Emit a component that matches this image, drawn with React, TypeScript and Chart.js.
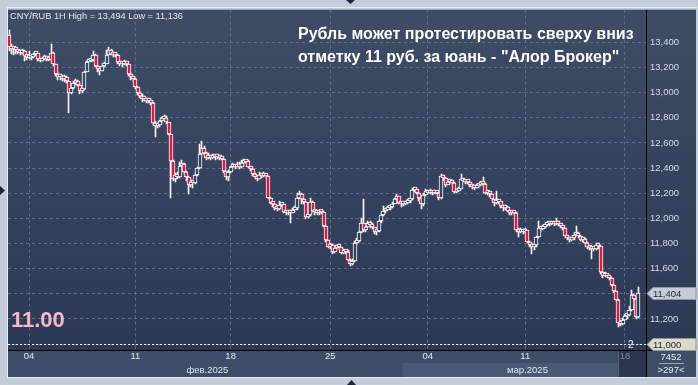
import React, { useEffect, useRef } from "react";
import { Chart, registerables } from "chart.js";

Chart.register(...registerables);

// ---------- data (CNY/RUB, hourly candles, 03.02.2025 – 18.03.2025) ----------
const firstOpen = 13.455;

const closes = [
  13.365, 13.345, 13.350, 13.335, 13.325, 13.318, 13.330, 13.290, 13.282,
  13.275, 13.280, 13.305, 13.312, 13.270, 13.255, 13.265, 13.285, 13.268,
  13.262, 13.318, 13.225, 13.150, 13.120, 13.135, 13.105, 13.125, 13.090,
  12.995, 13.035, 13.075, 13.090, 13.060, 13.010, 13.030, 13.165, 13.240,
  13.255, 13.262, 13.300, 13.215, 13.185, 13.175, 13.215, 13.230, 13.300,
  13.335, 13.310, 13.295, 13.300, 13.245, 13.230, 13.228, 13.245, 13.225,
  13.150, 13.120, 13.110, 13.045, 13.000, 12.975, 12.945, 12.955, 12.935,
  12.940, 12.920, 12.760, 12.735, 12.745, 12.770, 12.790, 12.800, 12.765,
  12.670, 12.455, 12.315, 12.345, 12.330, 12.420, 12.435, 12.370, 12.330,
  12.265, 12.290, 12.280, 12.345, 12.400, 12.515, 12.560, 12.520, 12.480,
  12.490, 12.478, 12.495, 12.485, 12.492, 12.482, 12.475, 12.375, 12.325,
  12.370, 12.405, 12.425, 12.412, 12.430, 12.410, 12.438, 12.445, 12.455,
  12.410, 12.392, 12.350, 12.330, 12.315, 12.345, 12.335, 12.350, 12.335,
  12.160, 12.125, 12.110, 12.080, 12.072, 12.105, 12.110, 12.050, 12.040,
  12.055, 12.045, 12.070, 12.080, 12.160, 12.190, 12.150, 12.130, 12.010,
  12.030, 12.130, 12.060, 12.048, 12.040, 12.052, 12.048, 11.940, 11.830,
  11.775, 11.790, 11.735, 11.765, 11.778, 11.770, 11.725, 11.742, 11.735,
  11.672, 11.640, 11.660, 11.800, 11.820, 11.890, 11.960, 11.905, 11.930,
  11.965, 11.950, 11.930, 11.890, 11.900, 11.975, 12.030, 12.060, 12.070,
  12.085, 12.090, 12.115, 12.150, 12.175, 12.120, 12.110, 12.115, 12.125,
  12.140, 12.150, 12.225, 12.230, 12.200, 12.160, 12.110, 12.185, 12.215,
  12.205, 12.215, 12.200, 12.212, 12.205, 12.160, 12.335, 12.320, 12.265,
  12.285, 12.295, 12.280, 12.210, 12.220, 12.235, 12.310, 12.300, 12.285,
  12.290, 12.262, 12.250, 12.242, 12.255, 12.262, 12.285, 12.275, 12.200,
  12.210, 12.190, 12.150, 12.120, 12.130, 12.135, 12.100, 12.085, 12.090,
  12.060, 12.040, 12.050, 12.045, 11.905, 11.890, 11.910, 11.895, 11.905,
  11.815, 11.790, 11.775, 11.785, 11.850, 11.920, 11.915, 11.930, 11.945,
  11.960, 11.955, 11.962, 11.955, 11.965, 11.958, 11.940, 11.920, 11.860,
  11.845, 11.830, 11.840, 11.870, 11.885, 11.860, 11.830, 11.835, 11.800,
  11.775, 11.765, 11.755, 11.760, 11.790, 11.780, 11.570, 11.545, 11.555,
  11.540, 11.525, 11.470, 11.420, 11.350, 11.170, 11.160, 11.195, 11.225,
  11.235, 11.270, 11.390, 11.360, 11.215, 11.404,
];

const highs = [
  13.494, 13.390, 13.372, 13.360, 13.350, 13.340, 13.345, 13.335, 13.300,
  13.330, 13.295, 13.315, 13.322, 13.315, 13.275, 13.280, 13.300, 13.290,
  13.280, 13.390, 13.322, 13.230, 13.160, 13.150, 13.140, 13.140, 13.130,
  13.090, 13.060, 13.095, 13.110, 13.100, 13.075, 13.045, 13.175, 13.250,
  13.270, 13.280, 13.330, 13.305, 13.220, 13.200, 13.230, 13.245, 13.340,
  13.360, 13.345, 13.320, 13.315, 13.305, 13.250, 13.245, 13.262, 13.250,
  13.230, 13.160, 13.130, 13.115, 13.050, 13.010, 12.985, 12.970, 12.960,
  12.955, 12.950, 12.925, 12.770, 12.760, 12.780, 12.805, 12.820, 12.810,
  12.740, 12.670, 12.460, 12.360, 12.365, 12.450, 12.460, 12.440, 12.380,
  12.340, 12.310, 12.300, 12.360, 12.410, 12.590, 12.614, 12.575, 12.530,
  12.520, 12.500, 12.510, 12.505, 12.510, 12.500, 12.490, 12.482, 12.380,
  12.385, 12.420, 12.440, 12.435, 12.450, 12.445, 12.460, 12.472, 12.465,
  12.460, 12.420, 12.400, 12.360, 12.345, 12.370, 12.360, 12.365, 12.355,
  12.340, 12.170, 12.130, 12.115, 12.090, 12.140, 12.125, 12.115, 12.060,
  12.070, 12.065, 12.085, 12.095, 12.200, 12.215, 12.200, 12.165, 12.135,
  12.050, 12.165, 12.140, 12.070, 12.060, 12.065, 12.070, 12.055, 11.945,
  11.830, 11.805, 11.795, 11.780, 11.790, 11.785, 11.775, 11.755, 11.750,
  11.750, 11.680, 11.675, 11.820, 11.840, 11.910, 12.000, 12.155, 11.945,
  11.980, 11.975, 11.960, 11.935, 11.915, 11.990, 12.045, 12.100, 12.085,
  12.100, 12.105, 12.130, 12.165, 12.190, 12.180, 12.130, 12.130, 12.140,
  12.155, 12.165, 12.240, 12.250, 12.245, 12.210, 12.165, 12.200, 12.230,
  12.225, 12.230, 12.220, 12.225, 12.220, 12.215, 12.355, 12.345, 12.325,
  12.300, 12.310, 12.305, 12.285, 12.235, 12.250, 12.350, 12.320, 12.305,
  12.305, 12.295, 12.270, 12.260, 12.270, 12.275, 12.300, 12.325, 12.280,
  12.225, 12.215, 12.195, 12.150, 12.220, 12.150, 12.140, 12.105, 12.105,
  12.095, 12.070, 12.060, 12.060, 12.050, 11.920, 11.925, 11.915, 11.920,
  11.905, 11.820, 11.800, 11.800, 11.860, 11.980, 11.935, 11.945, 11.960,
  11.975, 11.970, 11.975, 11.970, 12.005, 11.980, 11.965, 11.945, 11.925,
  11.870, 11.855, 11.855, 11.885, 11.940, 11.890, 11.865, 11.850, 11.840,
  11.810, 11.785, 11.775, 11.775, 11.800, 11.800, 11.785, 11.580, 11.570,
  11.560, 11.550, 11.530, 11.480, 11.425, 11.355, 11.190, 11.210, 11.240,
  11.250, 11.300, 11.430, 11.400, 11.375, 11.450,
];

const lows = [
  13.330, 13.305, 13.300, 13.310, 13.305, 13.300, 13.310, 13.250, 13.260,
  13.265, 13.262, 13.275, 13.290, 13.250, 13.240, 13.250, 13.260, 13.255,
  13.250, 13.255, 13.215, 13.130, 13.100, 13.100, 13.090, 13.085, 13.075,
  12.840, 12.985, 13.030, 13.060, 13.050, 12.985, 13.000, 13.020, 13.160,
  13.240, 13.245, 13.255, 13.200, 13.160, 13.140, 13.170, 13.200, 13.225,
  13.300, 13.295, 13.280, 13.285, 13.230, 13.215, 13.205, 13.220, 13.210,
  13.130, 13.100, 13.085, 13.030, 12.980, 12.955, 12.925, 12.930, 12.920,
  12.915, 12.900, 12.745, 12.650, 12.720, 12.730, 12.760, 12.780, 12.750,
  12.660, 12.160, 12.300, 12.290, 12.315, 12.320, 12.400, 12.350, 12.300,
  12.195, 12.250, 12.240, 12.270, 12.335, 12.390, 12.500, 12.505, 12.465,
  12.470, 12.465, 12.470, 12.465, 12.475, 12.465, 12.460, 12.360, 12.305,
  12.300, 12.360, 12.400, 12.395, 12.405, 12.395, 12.400, 12.420, 12.430,
  12.400, 12.380, 12.340, 12.310, 12.295, 12.310, 12.320, 12.330, 12.320,
  12.150, 12.110, 12.090, 12.070, 12.055, 12.065, 12.090, 12.040, 12.025,
  12.030, 11.965, 12.040, 12.060, 12.070, 12.150, 12.115, 12.115, 11.995,
  12.000, 12.020, 12.050, 12.030, 12.025, 12.030, 12.035, 11.930, 11.815,
  11.765, 11.760, 11.715, 11.725, 11.755, 11.745, 11.715, 11.720, 11.715,
  11.660, 11.620, 11.625, 11.650, 11.790, 11.810, 11.880, 11.890, 11.895,
  11.930, 11.925, 11.915, 11.875, 11.870, 11.890, 11.960, 12.020, 12.045,
  12.065, 12.070, 12.080, 12.110, 12.140, 12.110, 12.090, 12.095, 12.105,
  12.115, 12.125, 12.145, 12.210, 12.190, 12.140, 12.075, 12.100, 12.180,
  12.190, 12.195, 12.185, 12.190, 12.190, 12.145, 12.155, 12.300, 12.250,
  12.265, 12.275, 12.265, 12.200, 12.200, 12.215, 12.230, 12.285, 12.270,
  12.275, 12.250, 12.235, 12.225, 12.240, 12.245, 12.255, 12.260, 12.190,
  12.185, 12.170, 12.135, 12.100, 12.110, 12.115, 12.085, 12.060, 12.070,
  12.050, 12.030, 12.030, 12.030, 11.890, 11.850, 11.880, 11.875, 11.885,
  11.800, 11.770, 11.720, 11.745, 11.770, 11.840, 11.895, 11.905, 11.925,
  11.940, 11.940, 11.945, 11.940, 11.945, 11.940, 11.925, 11.905, 11.845,
  11.830, 11.815, 11.820, 11.830, 11.860, 11.845, 11.820, 11.815, 11.785,
  11.760, 11.750, 11.680, 11.740, 11.750, 11.760, 11.560, 11.525, 11.530,
  11.525, 11.510, 11.460, 11.410, 11.340, 11.136, 11.140, 11.150, 11.190,
  11.200, 11.225, 11.260, 11.330, 11.200, 11.205,
];

const slotCount = 288;
const xTickIndex = [9, 57, 100, 145, 189, 233, 278];
const xTickLabels = ["04", "11", "18", "25", "04", "11", "18"];
const monthLabels = ["фев.2025", "мар.2025"];
const monthIndex = [89.5, 234];
const monthBoxIndex = [177.5, 274.8];
const cursorIndex = 274.8;

const yTicks = [11.0, 11.2, 11.4, 11.6, 11.8, 12.0, 12.2, 12.4, 12.6, 12.8, 13.0, 13.2, 13.4];
const yMin = 10.953;
const yMax = 13.659;

const lastPrice = 11.404;
const targetLevel = 11.0;
const targetText = "11.00";
const targetCount = "2";
const infoText = "CNY/RUB 1H High = 13,494 Low = 11,136";
const titleLines = [
  "Рубль может протестировать сверху вниз",
  "отметку 11 руб. за юань - \"Алор Брокер\"",
];
const volumeText = "7452";
const barsText = ">297<";

// ---------- styling ----------
const W = 698;
const H = 385;
const FONT = '"Liberation Sans", Arial, Helvetica, sans-serif';
const RED = "#e8163f";
const GRID = "#5e6e8a";
const AXIS_TEXT = "#d3dcec";

const fmt = (v: number) => v.toFixed(3).replace(".", ",");

export default function App() {
  const ref = useRef<HTMLCanvasElement>(null);

  useEffect(() => {
    const canvas = ref.current!;
    const c2d = canvas.getContext("2d")!;
    const makeBg = (ctx: CanvasRenderingContext2D) => {
      const g = ctx.createLinearGradient(0, 8, 0, 350);
      g.addColorStop(0, "#3f4c66");
      g.addColorStop(1, "#2c3955");
      return g;
    };
    const hollow = makeBg(c2d);
    const opens = closes.map((c, i) => (i === 0 ? firstOpen : closes[i - 1]));

    const tag = (ctx: CanvasRenderingContext2D, y: number, text: string, fill: string) => {
      const x0 = 647;
      ctx.beginPath();
      ctx.moveTo(x0, y);
      ctx.lineTo(x0 + 6, y - 6);
      ctx.lineTo(696, y - 6);
      ctx.lineTo(696, y + 6);
      ctx.lineTo(x0 + 6, y + 6);
      ctx.closePath();
      ctx.fillStyle = fill;
      ctx.fill();
      ctx.strokeStyle = "#8e97a6";
      ctx.lineWidth = 1;
      ctx.stroke();
      ctx.fillStyle = "#1b2436";
      ctx.font = `9.5px ${FONT}`;
      ctx.textAlign = "left";
      ctx.textBaseline = "middle";
      ctx.fillText(text, 653, y + 0.5);
    };

    // snap candle elements (positioned by the scales) onto whole pixels for crisp strokes
    const snapPlugin = {
      id: "snap",
      beforeDatasetsDraw(chart: any) {
        chart.data.datasets.forEach((ds: any, di: number) => {
          const meta = chart.getDatasetMeta(di);
          const isBody = ds.label === "body";
          meta.data.forEach((el: any) => {
            el.x = isBody ? Math.round(el.x) : Math.floor(el.x) + 0.5;
            el.y = Math.round(el.y);
            el.base = Math.round(el.base);
          });
        });
      },
    };

    const framePlugin = {
      id: "frame",
      beforeDraw(chart: any) {
        const ctx: CanvasRenderingContext2D = chart.ctx;
        const { left, top, bottom } = chart.chartArea;
        const xs = chart.scales.x;
        ctx.save();
        ctx.fillStyle = "#c3cdd9";
        ctx.fillRect(0, 0, W, H);
        ctx.fillStyle = makeBg(ctx);
        ctx.fillRect(left, top, 696 - left, bottom - top);
        ctx.fillStyle = "#3f4e68";
        ctx.fillRect(left, bottom, 696 - left, 27);
        // month box (March)
        const mb0 = xs.getPixelForValue(monthBoxIndex[0]);
        const mb1 = xs.getPixelForValue(monthBoxIndex[1]);
        ctx.fillStyle = "#4b5a74";
        ctx.fillRect(mb0, bottom + 13, mb1 - mb0, 14);
        // cursor box
        const cx = xs.getPixelForValue(cursorIndex);
        ctx.fillStyle = "#2b3750";
        ctx.fillRect(cx, bottom, 646 - cx, 27);
        ctx.strokeStyle = "#56647c";
        ctx.lineWidth = 1;
        ctx.beginPath();
        ctx.moveTo(Math.round(cx) + 0.5, bottom);
        ctx.lineTo(Math.round(cx) + 0.5, bottom + 27);
        ctx.stroke();
        ctx.restore();
      },
      afterDraw(chart: any) {
        const ctx: CanvasRenderingContext2D = chart.ctx;
        const { left, right, top, bottom } = chart.chartArea;
        const xs = chart.scales.x;
        const ys = chart.scales.y;
        ctx.save();

        // target dashed line
        const ty = Math.round(ys.getPixelForValue(targetLevel)) + 0.5;
        ctx.strokeStyle = "#eeeeee";
        ctx.lineWidth = 1;
        ctx.setLineDash([2, 2]);
        ctx.beginPath();
        ctx.moveTo(left, ty);
        ctx.lineTo(right, ty);
        ctx.stroke();
        ctx.setLineDash([]);

        ctx.fillStyle = "#f2f2f2";
        ctx.font = `10px ${FONT}`;
        ctx.textAlign = "left";
        ctx.textBaseline = "middle";
        ctx.fillText(targetCount, 628, ty + 1);

        // frame lines
        ctx.strokeStyle = "#000000";
        ctx.beginPath();
        ctx.moveTo(646.5, top);
        ctx.lineTo(646.5, 377);
        ctx.moveTo(left, 350.5);
        ctx.lineTo(696, 350.5);
        ctx.stroke();
        ctx.strokeStyle = "#e9eef4";
        ctx.beginPath();
        ctx.moveTo(7.5, 7);
        ctx.lineTo(7.5, 378);
        ctx.moveTo(7, 7.5);
        ctx.lineTo(697, 7.5);
        ctx.moveTo(7, 377.5);
        ctx.lineTo(697, 377.5);
        ctx.stroke();

        // price tags
        tag(ctx, Math.round(ys.getPixelForValue(lastPrice)) + 0.5, fmt(lastPrice), "#c6ccd6");
        tag(ctx, ty, fmt(targetLevel), "#dcdcc6");

        // info text
        ctx.fillStyle = "#e3e8f1";
        ctx.font = `9.2px ${FONT}`;
        ctx.textAlign = "left";
        ctx.textBaseline = "alphabetic";
        ctx.fillText(infoText, 10, 18.5);

        // title
        ctx.font = `bold 16px ${FONT}`;
        const w0 = ctx.measureText(titleLines[0]).width;
        const fs = (16 * 336) / w0;
        ctx.font = `bold ${fs}px ${FONT}`;
        ctx.fillStyle = "#ffffff";
        ctx.fillText(titleLines[0], 298, 39);
        ctx.fillText(titleLines[1], 298, 62);

        // target text
        ctx.fillStyle = "#fbb6c6";
        ctx.font = `bold 22px ${FONT}`;
        ctx.fillText(targetText, 11, 327);

        // month labels
        ctx.fillStyle = "#dfe6f1";
        ctx.font = `9.5px ${FONT}`;
        ctx.textAlign = "center";
        ctx.textBaseline = "middle";
        monthLabels.forEach((m, i) => {
          ctx.fillText(m, xs.getPixelForValue(monthIndex[i]), bottom + 20.5);
        });

        // bottom right cell
        ctx.fillStyle = "#e6ecf5";
        ctx.fillText(volumeText, 671, 357.5);
        ctx.fillText(barsText, 671, 370.5);
        ctx.strokeStyle = "#9aa6b8";
        ctx.beginPath();
        ctx.moveTo(659, 363.5);
        ctx.lineTo(684, 363.5);
        ctx.stroke();

        // small scroll triangles in the frame
        ctx.fillStyle = "#1f2636";
        ctx.beginPath();
        ctx.moveTo(0, 186);
        ctx.lineTo(5, 190.5);
        ctx.lineTo(0, 195);
        ctx.closePath();
        ctx.fill();
        ctx.beginPath();
        ctx.moveTo(346, 0);
        ctx.lineTo(355, 0);
        ctx.lineTo(350.5, 4);
        ctx.closePath();
        ctx.fill();
        ctx.beginPath();
        ctx.moveTo(347, 385);
        ctx.lineTo(356, 385);
        ctx.lineTo(351.5, 380);
        ctx.closePath();
        ctx.fill();

        ctx.restore();
      },
    };

    const chart = new Chart(canvas, {
      type: "bar",
      data: {
        datasets: [
          {
            label: "wick",
            data: closes.map((_, i) => ({ x: i, y: [lows[i], highs[i]] })) as any,
            backgroundColor: "#f6f6f6",
            borderWidth: 0,
            barThickness: 1,
            grouped: false,
            order: 2,
          } as any,
          {
            label: "body",
            data: closes.map((c, i) => ({ x: i, y: [opens[i], c] })) as any,
            backgroundColor: closes.map((c, i) => (c < opens[i] ? RED : hollow)),
            borderColor: "#ffffff",
            borderWidth: 1,
            borderSkipped: false,
            barThickness: 4,
            minBarLength: 3,
            grouped: false,
            order: 1,
          } as any,
        ],
      },
      options: {
        responsive: false,
        maintainAspectRatio: false,
        animation: false,
        devicePixelRatio: 1,
        events: [],
        layout: { padding: { left: 8, top: 8, right: 0, bottom: 0 } },
        plugins: { legend: { display: false }, tooltip: { enabled: false } },
        scales: {
          x: {
            type: "linear",
            min: -0.5,
            max: slotCount - 0.5,
            offset: false,
            afterBuildTicks: (s: any) => {
              s.ticks = xTickIndex.map((v) => ({ value: v }));
            },
            afterFit: (s: any) => {
              s.height = 35;
            },
            ticks: {
              autoSkip: false,
              maxRotation: 0,
              padding: 1,
              font: { family: FONT, size: 9.5 },
              color: (c: any) => (c.index === xTickIndex.length - 1 ? "#7c889d" : "#dfe6f1"),
              callback: (_v: any, i: number) => xTickLabels[i],
            },
            grid: { color: GRID, drawTicks: false, offset: false, lineWidth: 1 },
            border: { display: false, dash: [3, 3] },
          },
          y: {
            type: "linear",
            position: "right",
            min: yMin,
            max: yMax,
            afterBuildTicks: (s: any) => {
              s.ticks = yTicks.map((v) => ({ value: v }));
            },
            afterFit: (s: any) => {
              s.width = 52;
            },
            ticks: {
              padding: 4,
              font: { family: FONT, size: 9.5 },
              color: AXIS_TEXT,
              callback: (v: any) => fmt(Number(v)),
            },
            grid: { color: GRID, drawTicks: false, lineWidth: 1 },
            border: { display: false, dash: [3, 3] },
          },
        },
      } as any,
      plugins: [framePlugin as any, snapPlugin as any],
    });

    return () => chart.destroy();
  }, []);

  return (
    <div style={{ position: "fixed", left: 0, top: 0, width: W, height: H }}>
      <canvas ref={ref} width={W} height={H} style={{ display: "block", width: W, height: H }} />
    </div>
  );
}
